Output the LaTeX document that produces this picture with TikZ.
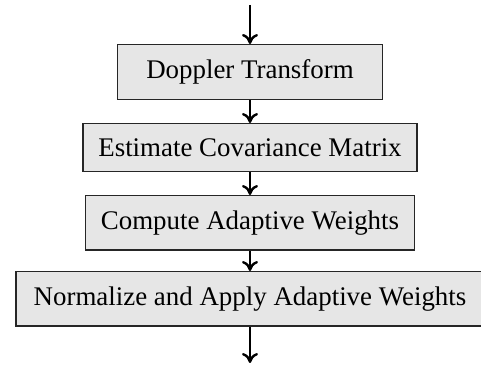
\documentclass[tikz,border=0pt]{standalone}
\usepackage{fontspec}
\setmainfont{Liberation Serif}
\usetikzlibrary{arrows.meta}
\definecolor{boxfill}{HTML}{E6E6E6}
\begin{document}
\begin{tikzpicture}[x=1pt,y=1pt,
  stepbox/.style={draw=black!85, line width=1.3pt, fill=boxfill, anchor=north,
    inner xsep=15.5pt, inner ysep=15pt, font=\fontsize{26.9}{32}\selectfont},
  flow/.style={line width=2.4pt, -{To[length=10pt,width=16pt]}}]
\useasboundingbox (0,0) rectangle (481,366);
\node[stepbox, minimum width=265pt] (b1) at (250,322) {Doppler Transform};
\node[stepbox] (b2) at (250,243) {Estimate Covariance Matrix};
\node[stepbox] (b3) at (250,171) {Compute Adaptive Weights};
\node[stepbox, minimum width=468pt] (b4) at (250,95) {Normalize and Apply Adaptive Weights};
\coordinate (in) at (250,361);
\coordinate (out) at (250,3);
\draw[flow] (in) -- (b1.north);
\draw[flow] (b1) -- (b2);
\draw[flow] (b2) -- (b3);
\draw[flow] (b3) -- (b4);
\draw[flow] (b4) -- (out);
\end{tikzpicture}
\end{document}
